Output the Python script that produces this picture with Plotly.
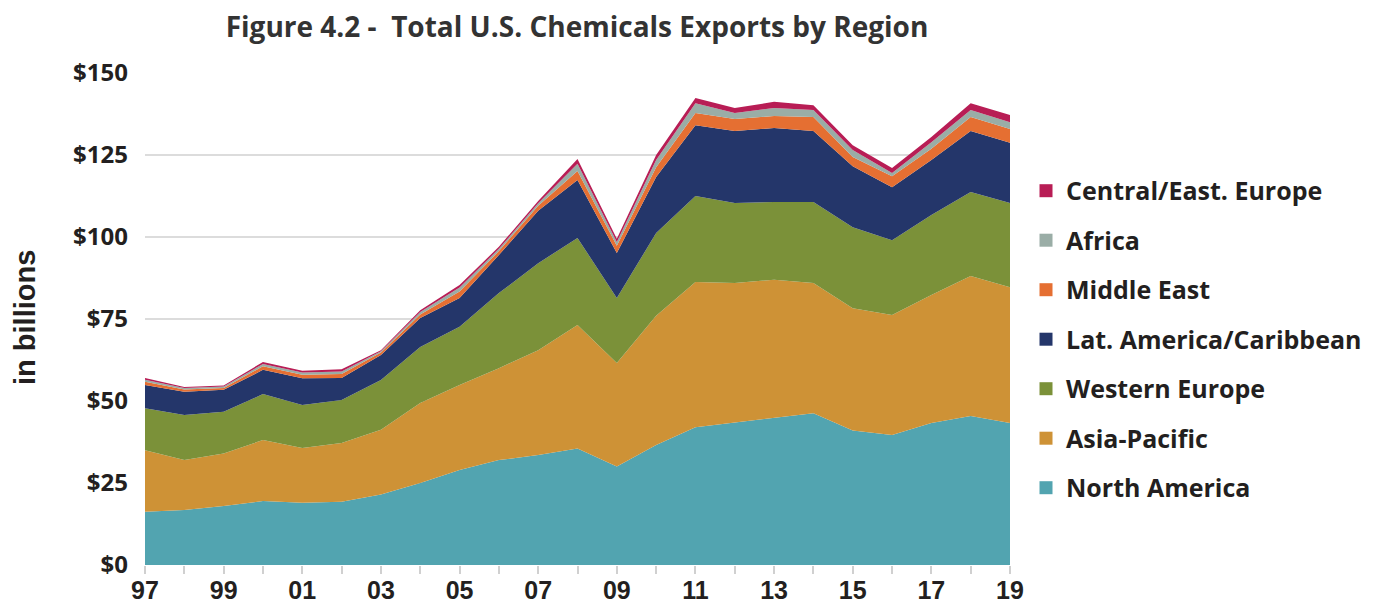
import plotly.graph_objects as go

years = list(range(1997, 2020))
tick_labels = [f"{y % 100:02d}" if (y - 1997) % 2 == 0 else "" for y in years]

north_america = [16.2, 16.8, 18.0, 19.5, 19.0, 19.3, 21.5, 25.0, 29.0, 32.0, 33.5, 35.5,
                 30.0, 36.6, 42.0, 43.5, 45.0, 46.3, 41.0, 39.6, 43.3, 45.4, 43.3]
asia_pacific = [18.8, 15.2, 16.0, 18.6, 16.7, 17.9, 19.7, 24.4, 25.9, 28.0, 32.0, 37.7,
                31.6, 39.4, 44.3, 42.5, 42.0, 39.7, 37.3, 36.6, 39.0, 42.7, 41.4]
western_europe = [12.8, 13.7, 12.7, 14.0, 13.1, 13.1, 15.2, 17.1, 17.7, 22.9, 26.5, 26.5,
                  19.8, 25.2, 26.2, 24.4, 23.7, 24.7, 24.7, 22.8, 24.4, 25.6, 25.7]
lat_america = [7.1, 7.1, 6.7, 7.4, 8.1, 6.7, 7.6, 8.8, 8.8, 11.6, 16.0, 17.7,
               13.7, 17.1, 21.6, 21.9, 22.5, 21.6, 18.6, 16.2, 16.8, 18.6, 18.3]
middle_east = [1.0, 0.7, 0.6, 1.1, 1.1, 1.2, 0.8, 1.1, 2.0, 1.2, 1.5, 2.7,
               2.2, 3.0, 3.7, 3.7, 3.7, 4.3, 2.8, 3.3, 3.4, 4.3, 4.2]
africa = [0.6, 0.5, 0.4, 0.7, 0.7, 0.8, 0.4, 0.7, 1.2, 0.7, 0.8, 2.2,
          1.2, 2.2, 3.0, 1.8, 2.4, 2.1, 2.1, 1.0, 2.0, 2.1, 2.1]
central_east_europe = [0.5, 0.3, 0.3, 0.6, 0.5, 0.7, 0.3, 0.6, 0.8, 0.6, 0.7, 1.5,
                       1.0, 1.5, 1.6, 1.5, 1.9, 1.5, 1.5, 1.5, 1.6, 2.1, 2.2]

series = [
    ("North America", north_america, "#52A4B0"),
    ("Asia-Pacific", asia_pacific, "#CE9236"),
    ("Western Europe", western_europe, "#7B9139"),
    ("Lat. America/Caribbean", lat_america, "#24366A"),
    ("Middle East", middle_east, "#E56F32"),
    ("Africa", africa, "#9AADA6"),
    ("Central/East. Europe", central_east_europe, "#B81D55"),
]

y_ticks = [0, 25, 50, 75, 100, 125, 150]
y_tick_labels = [f"${v}" for v in y_ticks]

text_color = "#231f20"
fig = go.Figure()
for i, (name, vals, color) in enumerate(series):
    fig.add_trace(go.Scatter(
        x=years, y=vals, name=name, mode="lines", stackgroup="one",
        line=dict(width=0, color=color), fillcolor=color, showlegend=False,
    ))
for i, (name, vals, color) in reversed(list(enumerate(series))):
    fig.add_trace(go.Scatter(
        x=[None], y=[None], name=name, mode="markers", legendgroup=f"g{i}",
        marker=dict(symbol="square", size=13, color=color), showlegend=True,
    ))

# page body has an 8px offset; margins compensate so plot spans x 145-1010, y 73-565
fig.update_layout(
    width=1374, height=605,
    margin=dict(l=137, r=372, t=65, b=48),
    paper_bgcolor="white", plot_bgcolor="white",
    title=dict(text="Figure 4.2 -  Total U.S. Chemicals Exports by Region",
               x=(577 - 8) / 1374, xanchor="center", y=1 - 19 / 605, yanchor="middle",
               font=dict(family="Open Sans", size=28, weight="bold", color="#333333")),
    legend=dict(x=1.0185, xanchor="left", y=0.807, yanchor="top",
                traceorder="grouped", tracegroupgap=14,
                font=dict(family="Open Sans", size=25, weight="bold", color=text_color),
                bgcolor="rgba(0,0,0,0)"),
    showlegend=True,
)
fig.update_xaxes(
    range=[1997, 2019], tickvals=years, ticktext=tick_labels,
    ticks="outside", ticklen=8, tickwidth=1.5, tickcolor="#d0d0d0",
    showgrid=False, zeroline=False, showline=False, automargin=False,
    ticklabelstandoff=-5,
    tickfont=dict(family="Liberation Sans Narrow, Liberation Sans", size=25, weight="bold", color=text_color),
)
fig.update_yaxes(
    range=[0, 150], tickvals=y_ticks, ticktext=y_tick_labels,
    showgrid=True, gridcolor="#dcdcdc", gridwidth=2, zeroline=False, showline=False,
    ticks="", ticklabelstandoff=16, automargin=False,
    tickfont=dict(family="Open Sans", size=24, weight="bold", color=text_color),
)
fig.add_annotation(
    text="in billions", textangle=-90, xref="paper", yref="paper",
    x=(25 - 145) / 865, y=(565 - 318) / 492, xanchor="center", yanchor="middle",
    showarrow=False,
    font=dict(family="Liberation Sans", size=29, weight="bold", color=text_color),
)
fig.write_html("out.html")
